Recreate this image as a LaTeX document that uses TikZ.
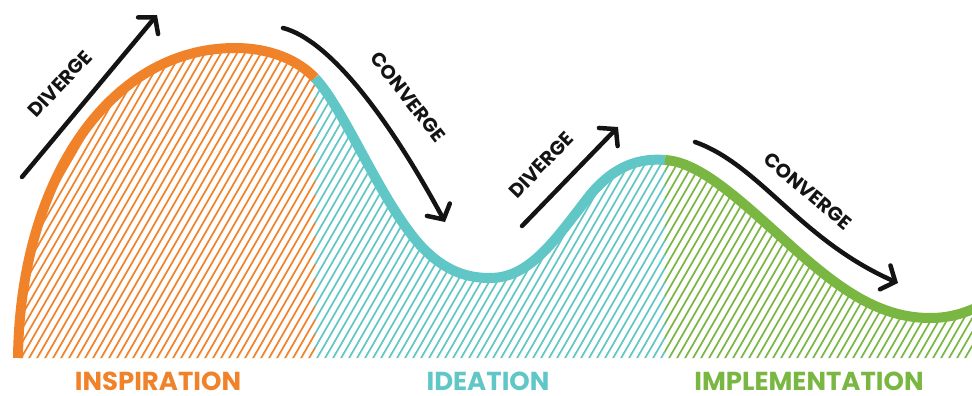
\documentclass[tikz,border=0pt]{standalone}
\usepackage{fontspec}
\setmainfont{Poppins}
\usepackage{tikz}
\usetikzlibrary{arrows.meta,positioning}
\definecolor{inspiorange}{RGB}{240, 130, 42}
\definecolor{ideateal}{RGB}{96, 198, 198}
\definecolor{implgreen}{RGB}{122, 182, 66}
\definecolor{arrowblack}{RGB}{20, 20, 20}

\def\inspcurve{(18,358) .. controls (20,180) and (110,48) .. (235,48) .. controls (270,48) and (298,60) .. (315,78)}
\def\ideacurve{(315,78) .. controls (345,110) and (380,200) .. (420,245) .. controls (445,272) and (468,278) .. (490,278) .. controls (530,278) and (555,240) .. (590,195) .. controls (615,165) and (640,158) .. (665,160)}
\def\implcurve{(665,160) .. controls (700,162) and (740,200) .. (790,245) .. controls (840,290) and (880,318) .. (930,318) .. controls (950,318) and (965,313) .. (980,306)}

\begin{document}
\begin{tikzpicture}[x=1pt, y=-1pt,
    phase/.style={font=\fontsize{26}{26}\selectfont\bfseries, inner sep=0pt},
    move/.style={font=\fontsize{19.5}{19.5}\selectfont\bfseries, text=arrowblack, inner sep=0pt},
    swing/.style={draw=arrowblack, line width=4.5pt, line cap=round, -{Straight Barb[length=11pt, width=26pt, line cap=round]}},
    wave/.style={line width=10pt}]
    \useasboundingbox (0,0) rectangle (972,396);

    % Hatching under the wave
    \begin{scope}
        \clip (18,358) .. controls (20,180) and (110,48) .. (235,48) .. controls (270,48) and (298,60) .. (315,78)
            .. controls (345,110) and (380,200) .. (420,245) .. controls (445,272) and (468,278) .. (490,278)
            .. controls (530,278) and (555,240) .. (590,195) .. controls (615,165) and (640,158) .. (665,160)
            .. controls (700,162) and (740,200) .. (790,245) .. controls (840,290) and (880,318) .. (930,318)
            .. controls (950,318) and (965,313) .. (980,306) -- (980,358) -- cycle;
        \begin{scope}
            \clip (0,0) rectangle (315,360);
            \foreach \x in {-220,-212,...,330}
                \draw[inspiorange, line width=1.7pt] (\x,360) -- ++(210,-364);
        \end{scope}
        \begin{scope}
            \clip (315,0) rectangle (665,360);
            \foreach \x in {100,108,...,680}
                \draw[ideateal, line width=1.7pt] (\x,360) -- ++(210,-364);
        \end{scope}
        \begin{scope}
            \clip (665,0) rectangle (980,360);
            \foreach \x in {444,452,...,990}
                \draw[implgreen, line width=1.7pt] (\x,360) -- ++(210,-364);
        \end{scope}
    \end{scope}

    % The wave
    \draw[wave, inspiorange] \inspcurve;
    \draw[wave, ideateal] \ideacurve;
    \draw[wave, implgreen] \implcurve;

    % Arrows
    \coordinate (d1_from) at (22,177);
    \coordinate (d1_to) at (157,15);
    \coordinate (c1_from) at (283,28);
    \coordinate (c1_to) at (445,222);
    \coordinate (d2_from) at (522,226);
    \coordinate (d2_to) at (618,127);
    \coordinate (c2_from) at (695,142);
    \coordinate (c2_to) at (898,283);
    \draw[swing] (d1_from) -- (d1_to);
    \draw[swing] (c1_from) .. controls (330,40) and (390,120) .. (c1_to);
    \draw[swing] (d2_from) -- (d2_to);
    \draw[swing] (c2_from) .. controls (760,165) and (800,240) .. (c2_to);

    % Arrow labels
    \node[move, rotate=47] (l_div1) at (60,84) {DIVERGE};
    \node[move, rotate=-52] (l_con1) at (408,97) {CONVERGE};
    \node[move, rotate=46] (l_div2) at (541,165) {DIVERGE};
    \node[move, rotate=-40] (l_con2) at (808,191) {CONVERGE};

    % Phase labels
    \node[phase, text=inspiorange] (p_insp) at (158,381) {INSPIRATION};
    \node[phase, text=ideateal] (p_idea) at (488,381) {IDEATION};
    \node[phase, text=implgreen] (p_impl) at (809,381) {IMPLEMENTATION};
\end{tikzpicture}
\end{document}
